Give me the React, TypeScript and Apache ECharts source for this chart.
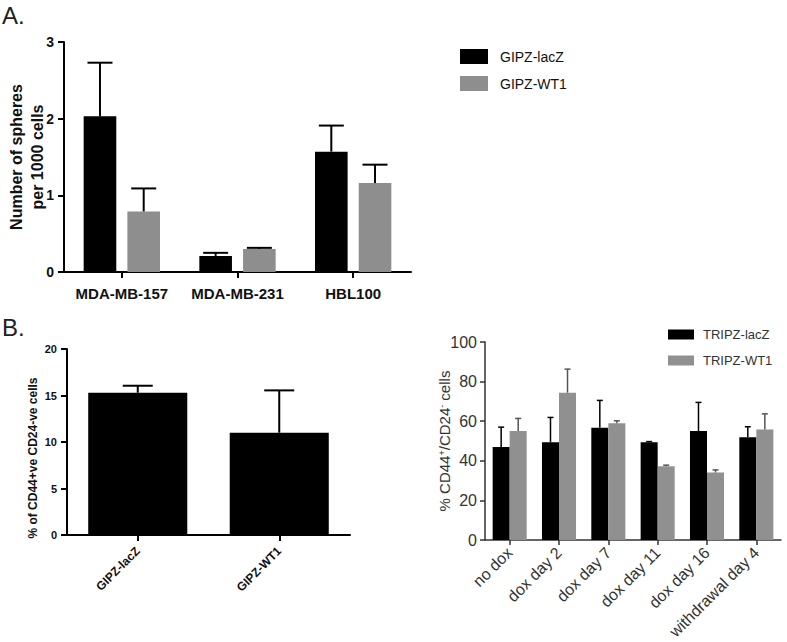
import React, { useEffect, useRef } from "react";
import * as echarts from "echarts";

// Panel A
const catsA = ["MDA-MB-157", "MDA-MB-231", "HBL100"];
const lacZA = [2.03, 0.21, 1.57];
const lacZAErr = [0.7, 0.04, 0.34];
const wt1A = [0.79, 0.3, 1.16];
const wt1AErr = [0.3, 0.015, 0.24];
const ticksA = [0, 1, 2, 3];

// Panel B left
const catsBL = ["GIPZ-lacZ", "GIPZ-WT1"];
const valsBL = [15.3, 11.0];
const errBL = [0.75, 4.55];

// Panel B right
const catsBR = ["no dox", "dox day 2", "dox day 7", "dox day 11", "dox day 16", "withdrawal day 4"];
const lacZBR = [47.0, 49.4, 56.7, 49.4, 55.0, 51.9];
const lacZBRErr = [10.0, 12.5, 13.8, 0.3, 14.5, 5.3];
const wt1BR = [55.0, 74.4, 59.0, 37.3, 34.1, 55.8];
const wt1BRErr = [6.4, 11.9, 1.2, 0.5, 1.3, 7.9];

const FONT = "Liberation Sans, Arial, Helvetica, sans-serif";

function errRender(offsetFrac: number, capW: number, color: string, lw: number) {
  return (params: any, api: any) => {
    const ci = api.value(0);
    const v = api.value(1);
    const e = api.value(2);
    const band = api.size([1, 0])[0];
    const base = api.coord([ci, v]);
    const top = api.coord([ci, v + e]);
    const x = base[0] + offsetFrac * band;
    const style = { stroke: color, lineWidth: lw };
    return {
      type: "group",
      children: [
        { type: "line", shape: { x1: x, y1: base[1], x2: x, y2: top[1] }, style },
        { type: "line", shape: { x1: x - capW / 2, y1: top[1], x2: x + capW / 2, y2: top[1] }, style },
      ],
    };
  };
}

const toErr = (vals: number[], errs: number[]) => vals.map((v, i) => [i, v, errs[i]]);

export default function App() {
  const ref = useRef<HTMLDivElement>(null);
  useEffect(() => {
    if (!ref.current) return;
    const chart = echarts.init(ref.current, null, { renderer: "svg" });

    const axisBlack = { lineStyle: { color: "#000", width: 2 } };
    const tickBlack = { show: true, length: 6, inside: false, lineStyle: { color: "#000", width: 2 } };
    const axisGray = { lineStyle: { color: "#333", width: 1.5 } };
    const tickGray = { show: true, length: 5, inside: false, lineStyle: { color: "#333", width: 1.5 } };

    const option: any = {
      animation: false,
      backgroundColor: "#fff",
      textStyle: { fontFamily: FONT },
      graphic: [
        { type: "text", left: 2, top: 3, style: { text: "A.", font: `24px ${FONT}`, fill: "#222" } },
        { type: "text", left: 2, top: 315, style: { text: "B.", font: `24px ${FONT}`, fill: "#222" } },
        {
          type: "text",
          x: 33,
          y: 458,
          rotation: Math.PI / 2,
          style: {
            text: "% of CD44+ve CD24-ve cells",
            font: `bold 12px ${FONT}`,
            fill: "#111",
            align: "center",
            verticalAlign: "middle",
          },
        },
      ],
      legend: [
        {
          data: ["GIPZ-lacZ", "GIPZ-WT1"],
          orient: "vertical",
          left: 460,
          top: 49,
          padding: 0,
          itemWidth: 28,
          itemHeight: 15,
          itemGap: 12,
          icon: "rect",
          textStyle: { fontSize: 14, color: "#111", fontFamily: FONT, padding: [0, 0, 0, 7] },
          selectedMode: false,
        },
        {
          data: ["TRIPZ-lacZ", "TRIPZ-WT1"],
          orient: "vertical",
          left: 668,
          top: 328,
          padding: 0,
          itemWidth: 26,
          itemHeight: 10,
          itemGap: 13,
          icon: "rect",
          textStyle: { fontSize: 13, color: "#333", fontFamily: FONT, padding: [0, 0, 0, 4] },
          selectedMode: false,
        },
      ],
      grid: [
        { left: 64, top: 42, width: 347, height: 230, outerBoundsMode: "none", containLabel: false },
        { left: 67, top: 349, width: 283, height: 186, outerBoundsMode: "none", containLabel: false },
        { left: 485, top: 342, width: 296, height: 198, outerBoundsMode: "none", containLabel: false },
      ],
      xAxis: [
        {
          gridIndex: 0,
          type: "category",
          data: catsA,
          axisLine: axisBlack,
          axisTick: { ...tickBlack, alignWithLabel: true },
          axisLabel: { color: "#111", fontWeight: "bold", fontSize: 15, margin: 14, fontFamily: FONT, interval: 0 },
        },
        {
          gridIndex: 1,
          type: "category",
          data: catsBL,
          axisLine: axisBlack,
          axisTick: { ...tickBlack, alignWithLabel: true },
          axisLabel: { color: "#111", fontWeight: "bold", fontSize: 12, margin: 14, rotate: 45, fontFamily: FONT, interval: 0 },
        },
        {
          gridIndex: 2,
          type: "category",
          data: catsBR,
          axisLine: axisGray,
          axisTick: { ...tickGray, alignWithLabel: true },
          axisLabel: { color: "#333", fontSize: 16, margin: 10, rotate: 45, fontFamily: FONT, interval: 0 },
        },
      ],
      yAxis: [
        {
          gridIndex: 0,
          type: "value",
          min: ticksA[0],
          max: ticksA[ticksA.length - 1],
          interval: 1,
          splitLine: { show: false },
          axisLine: { show: true, ...axisBlack },
          axisTick: tickBlack,
          axisLabel: { color: "#111", fontWeight: "bold", fontSize: 14, margin: 10, fontFamily: FONT },
          name: "Number of spheres\nper 1000 cells",
          nameLocation: "middle",
          nameGap: 16,
          nameMoveOverlap: false,
          nameTextStyle: { color: "#111", fontWeight: "bold", fontSize: 16, lineHeight: 21, fontFamily: FONT },
        },
        {
          gridIndex: 1,
          type: "value",
          min: 0,
          max: 20,
          interval: 5,
          splitLine: { show: false },
          axisLine: { show: true, ...axisBlack },
          axisTick: tickBlack,
          axisLabel: { color: "#111", fontWeight: "bold", fontSize: 11, margin: 10, fontFamily: FONT },
        },
        {
          gridIndex: 2,
          type: "value",
          min: 0,
          max: 100,
          interval: 20,
          splitLine: { show: false },
          axisLine: { show: true, ...axisGray },
          axisTick: tickGray,
          axisLabel: { color: "#333", fontSize: 16, margin: 8, fontFamily: FONT },
          name: "% CD44{sup|+}/CD24{sup|-} cells",
          nameLocation: "middle",
          nameGap: 33,
          nameMoveOverlap: false,
          nameTextStyle: {
            color: "#333",
            fontSize: 15,
            fontFamily: FONT,
            rich: {
              sup: { fontSize: 9, color: "#333", verticalAlign: "top", fontFamily: FONT },
            },
          },
        },
      ],
      series: [
        {
          name: "GIPZ-lacZ",
          type: "bar",
          xAxisIndex: 0,
          yAxisIndex: 0,
          data: lacZA,
          barGap: "34%",
          barCategoryGap: "34%",
          itemStyle: { color: "#000" },
        },
        {
          name: "GIPZ-WT1",
          type: "bar",
          xAxisIndex: 0,
          yAxisIndex: 0,
          data: wt1A,
          barGap: "34%",
          barCategoryGap: "34%",
          itemStyle: { color: "#8e8e8e" },
        },
        {
          name: "errA1",
          type: "custom",
          xAxisIndex: 0,
          yAxisIndex: 0,
          renderItem: errRender(-0.189, 25, "#000", 2),
          data: toErr(lacZA, lacZAErr),
          encode: { x: 0, y: 1 },
          z: 5,
        },
        {
          name: "errA2",
          type: "custom",
          xAxisIndex: 0,
          yAxisIndex: 0,
          renderItem: errRender(0.189, 25, "#000", 2),
          data: toErr(wt1A, wt1AErr),
          encode: { x: 0, y: 1 },
          z: 5,
        },
        {
          name: "CD44 CD24",
          type: "bar",
          xAxisIndex: 1,
          yAxisIndex: 1,
          data: valsBL,
          barCategoryGap: "30%",
          itemStyle: { color: "#000" },
        },
        {
          name: "errBL",
          type: "custom",
          xAxisIndex: 1,
          yAxisIndex: 1,
          renderItem: errRender(0, 30, "#000", 2),
          data: toErr(valsBL, errBL),
          encode: { x: 0, y: 1 },
          z: 5,
        },
        {
          name: "TRIPZ-lacZ",
          type: "bar",
          xAxisIndex: 2,
          yAxisIndex: 2,
          data: lacZBR,
          barGap: "0%",
          barCategoryGap: "31%",
          itemStyle: { color: "#000" },
        },
        {
          name: "TRIPZ-WT1",
          type: "bar",
          xAxisIndex: 2,
          yAxisIndex: 2,
          data: wt1BR,
          barGap: "0%",
          barCategoryGap: "31%",
          itemStyle: { color: "#909090" },
        },
        {
          name: "errBR1",
          type: "custom",
          xAxisIndex: 2,
          yAxisIndex: 2,
          renderItem: errRender(-0.1725, 6, "#000", 1.5),
          data: toErr(lacZBR, lacZBRErr),
          encode: { x: 0, y: 1 },
          z: 5,
        },
        {
          name: "errBR2",
          type: "custom",
          xAxisIndex: 2,
          yAxisIndex: 2,
          renderItem: errRender(0.1725, 6, "#555", 1.5),
          data: toErr(wt1BR, wt1BRErr),
          encode: { x: 0, y: 1 },
          z: 5,
        },
      ],
    };
    chart.setOption(option);
    return () => chart.dispose();
  }, []);

  return (
    <div
      ref={ref}
      style={{ position: "absolute", left: 0, top: 0, width: 787, height: 642, background: "#fff" }}
    />
  );
}
